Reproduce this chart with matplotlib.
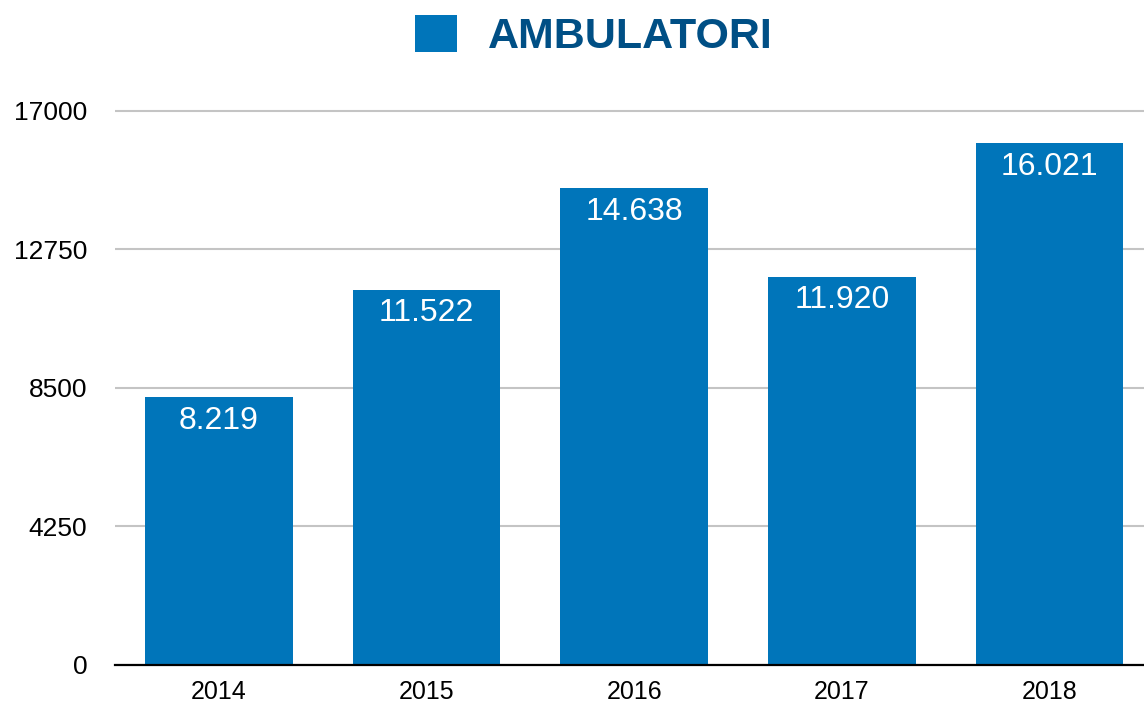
import matplotlib
matplotlib.use("Agg")
import matplotlib.pyplot as plt

# data
years = ["2014", "2015", "2016", "2017", "2018"]
values = [8219, 11522, 14638, 11920, 16021]
value_labels = ["8.219", "11.522", "14.638", "11.920", "16.021"]
y_ticks = [0, 4250, 8500, 12750, 17000]
series_name = "AMBULATORI"

BAR_COLOR = "#0075ba"
TITLE_COLOR = "#004f85"

plt.rcParams["font.family"] = ["Liberation Sans", "DejaVu Sans"]

fig = plt.figure(figsize=(11.44, 7.04), dpi=100)
# axes placed to match the reference pixel layout
ax = fig.add_axes([115 / 1144, 1 - 665 / 704, 1 - 115 / 1144, (665 - 94.7) / 704])

x = list(range(len(years)))
bars = ax.bar(x, values, width=0.71, color=BAR_COLOR, label=series_name, zorder=3)

for xi, v, lab in zip(x, values, value_labels):
    ax.annotate(lab, (xi, v), xytext=(0, -17), textcoords="offset points",
                ha="center", va="center", color="white", fontsize=23, zorder=4)

ax.set_xlim(-0.5, 4.455)
ax.set_ylim(0, 17500)
ax.set_yticks(y_ticks)
ax.set_yticklabels([str(t) for t in y_ticks])
ax.set_xticks(x)
ax.set_xticklabels(years)

ax.tick_params(axis="y", length=0, pad=20, labelsize=19)
ax.tick_params(axis="x", length=0, pad=11, labelsize=18)

for side in ["top", "right", "left"]:
    ax.spines[side].set_visible(False)
ax.spines["bottom"].set_linewidth(1.6)
ax.spines["bottom"].set_color("black")
ax.spines["bottom"].set_zorder(5)

ax.yaxis.grid(True, color="#c4c4c4", linewidth=1.5, zorder=0)
ax.set_axisbelow(True)

fig.legend(handles=[bars], labels=[series_name], loc="center",
           bbox_to_anchor=(594 / 1144, 1 - 36 / 704), frameon=False,
           prop={"weight": "bold", "size": 31}, labelcolor=TITLE_COLOR,
           handlelength=0.97, handleheight=0.97, handletextpad=0.72)

fig.savefig("out.png", dpi=100)
